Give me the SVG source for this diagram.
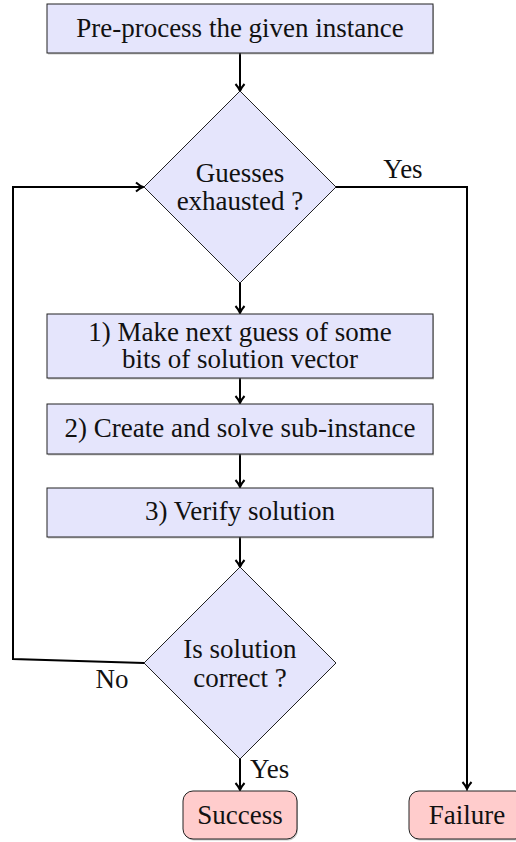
<svg xmlns="http://www.w3.org/2000/svg" width="516" height="842" viewBox="0 0 516 842">
<style>
.proc{fill:#e5e5fc;stroke:#222;stroke-width:1}
.term{fill:#ffcccc;stroke:#222;stroke-width:1}
.shadow{fill:#888;opacity:0.45}
.conn{fill:none;stroke:#000;stroke-width:2}
.t{font-family:'Liberation Serif','DejaVu Serif',serif;font-size:27px;fill:#111;text-anchor:middle}
</style>
<defs>
<marker id="arr" markerUnits="userSpaceOnUse" markerWidth="14" markerHeight="14" refX="10" refY="7" orient="auto">
<path d="M3,2.5 Q7,6 10,7 Q7,8 3,11.5" fill="none" stroke="#000" stroke-width="2"/>
</marker>
</defs>
<g id="connectors">
<line class="conn" x1="240" y1="53" x2="240" y2="91" marker-end="url(#arr)"/>
<line class="conn" x1="240" y1="283" x2="240" y2="313" marker-end="url(#arr)"/>
<line class="conn" x1="240" y1="378" x2="240" y2="403" marker-end="url(#arr)"/>
<line class="conn" x1="240" y1="454" x2="240" y2="487" marker-end="url(#arr)"/>
<line class="conn" x1="240" y1="537" x2="240" y2="567" marker-end="url(#arr)"/>
<line class="conn" x1="240" y1="759" x2="240" y2="790" marker-end="url(#arr)"/>
<path class="conn" d="M336,187 H467 V789" marker-end="url(#arr)"/>
<path class="conn" d="M144,663 L13,659 V187 H143" marker-end="url(#arr)"/>
<text class="t" x="403" y="178">Yes</text>
<text class="t" x="112" y="688">No</text>
<text class="t" x="250" y="778" style="text-anchor:start">Yes</text>
</g>
<g id="preprocess">
<rect class="shadow" x="48" y="5.5" width="386" height="49"/>
<rect class="proc" x="47" y="4" width="386" height="49"/>
<text class="t" x="240" y="37">Pre-process the given instance</text>
</g>
<g id="guesses">
<polygon class="proc" points="240,91 336,187 240,283 144,187"/>
<text class="t" x="240" y="182">Guesses</text>
<text class="t" x="240" y="210">exhausted ?</text>
</g>
<g id="step1">
<rect class="shadow" x="48" y="315.5" width="386" height="64"/>
<rect class="proc" x="47" y="314" width="386" height="64"/>
<text class="t" x="240" y="341">1) Make next guess of some</text>
<text class="t" x="240" y="368">bits of solution vector</text>
</g>
<g id="step2">
<rect class="shadow" x="48" y="405.5" width="386" height="50"/>
<rect class="proc" x="47" y="404" width="386" height="50"/>
<text class="t" x="240" y="437">2) Create and solve sub-instance</text>
</g>
<g id="step3">
<rect class="shadow" x="48" y="489.5" width="386" height="49"/>
<rect class="proc" x="47" y="488" width="386" height="49"/>
<text class="t" x="240" y="520">3) Verify solution</text>
</g>
<g id="correct">
<polygon class="proc" points="240,567 336,663 240,759 144,663"/>
<text class="t" x="240" y="658">Is solution</text>
<text class="t" x="240" y="687">correct ?</text>
</g>
<g id="success">
<rect class="shadow" x="184" y="792.5" width="114" height="48" rx="10"/>
<rect class="term" x="183" y="791" width="114" height="48" rx="10"/>
<text class="t" x="240" y="824">Success</text>
</g>
<g id="failure">
<rect class="shadow" x="410" y="792.5" width="116" height="48" rx="10"/>
<rect class="term" x="409" y="791" width="116" height="48" rx="10"/>
<text class="t" x="467" y="824">Failure</text>
</g>
</svg>
